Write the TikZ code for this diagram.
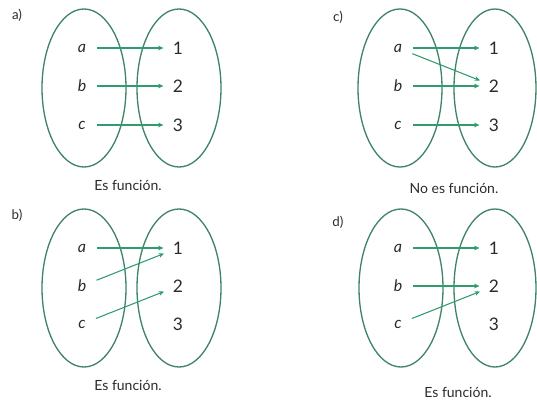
\documentclass[tikz,border=0pt]{standalone}
\usepackage{fontspec}
\setmainfont{Lato}
\usetikzlibrary{arrows.meta}
\definecolor{setgreen}{HTML}{3F8468}
\definecolor{mapgreen}{HTML}{2E9C6E}
\definecolor{ink}{HTML}{2A2A2A}
\tikzset{
  setline/.style={draw=setgreen,line width=1pt},
  elem/.style={font=\fontsize{12}{14}\selectfont\itshape,text=ink,inner sep=1pt},
  img/.style={font=\fontsize{13}{15}\selectfont,text=ink,inner sep=1pt},
  mapsto/.style={draw=mapgreen,line width=0.8pt,-{Stealth[length=4pt,width=3.6pt]},shorten <=7pt,shorten >=6pt},
  tag/.style={font=\fontsize{10}{12}\selectfont,text=ink},
  verdict/.style={font=\fontsize{10.5}{12}\selectfont,text=ink}
}
\begin{document}
\begin{tikzpicture}[x=0.75pt,y=-0.75pt]
  \useasboundingbox (0,0) rectangle (537,400);
  % a) one arrow each
  \node[tag] (ta) at (17,15) {a)};
  \draw[setline] (84,88) ellipse (42 and 79);
  \draw[setline] (179,88) ellipse (42 and 79);
  \foreach \l/\n/\y in {a/1/48,b/2/86,c/3/125}{
    \node[elem] (A\l) at (82,\y) {\l};
    \node[img] (A\n) at (178,\y) {\n};}
  \draw[mapsto] (Aa) -- (A1);
  \draw[mapsto] (Ab) -- (A2);
  \draw[mapsto] (Ac) -- (A3);
  \node[verdict] (va) at (128,185) {Es función.};
  % b) two go to 1
  \node[tag] (tb) at (17,215) {b)};
  \draw[setline] (84,288) ellipse (42 and 79);
  \draw[setline] (179,288) ellipse (42 and 79);
  \foreach \l/\n/\y in {a/1/248,b/2/286,c/3/324}{
    \node[elem] (B\l) at (82,\y) {\l};
    \node[img] (B\n) at (178,\y) {\n};}
  \draw[mapsto] (Ba) -- (B1);
  \draw[mapsto] (Bb) -- (B1);
  \draw[mapsto] (Bc) -- (B2);
  \node[verdict] (vb) at (128,385) {Es función.};
  % c) a has two images
  \node[tag] (tc) at (338,17) {c)};
  \draw[setline] (400,88) ellipse (42 and 79);
  \draw[setline] (495,88) ellipse (41 and 79);
  \foreach \l/\n/\y in {a/1/48,b/2/86,c/3/125}{
    \node[elem] (C\l) at (398,\y) {\l};
    \node[img] (C\n) at (494,\y) {\n};}
  \draw[mapsto] (Ca) -- (C1);
  \draw[mapsto] (Ca) -- (C2);
  \draw[mapsto] (Cb) -- (C2);
  \draw[mapsto] (Cc) -- (C3);
  \node[verdict] (vc) at (454,188) {No es función.};
  % d) two go to 2
  \node[tag] (td) at (338,222) {d)};
  \draw[setline] (401,288) ellipse (42 and 79);
  \draw[setline] (495,288) ellipse (41 and 79);
  \foreach \l/\n/\y in {a/1/248,b/2/286,c/3/324}{
    \node[elem] (D\l) at (398,\y) {\l};
    \node[img] (D\n) at (494,\y) {\n};}
  \draw[mapsto] (Da) -- (D1);
  \draw[mapsto] (Db) -- (D2);
  \draw[mapsto] (Dc) -- (D2);
  \node[verdict] (vd) at (458,392) {Es función.};
\end{tikzpicture}
\end{document}
